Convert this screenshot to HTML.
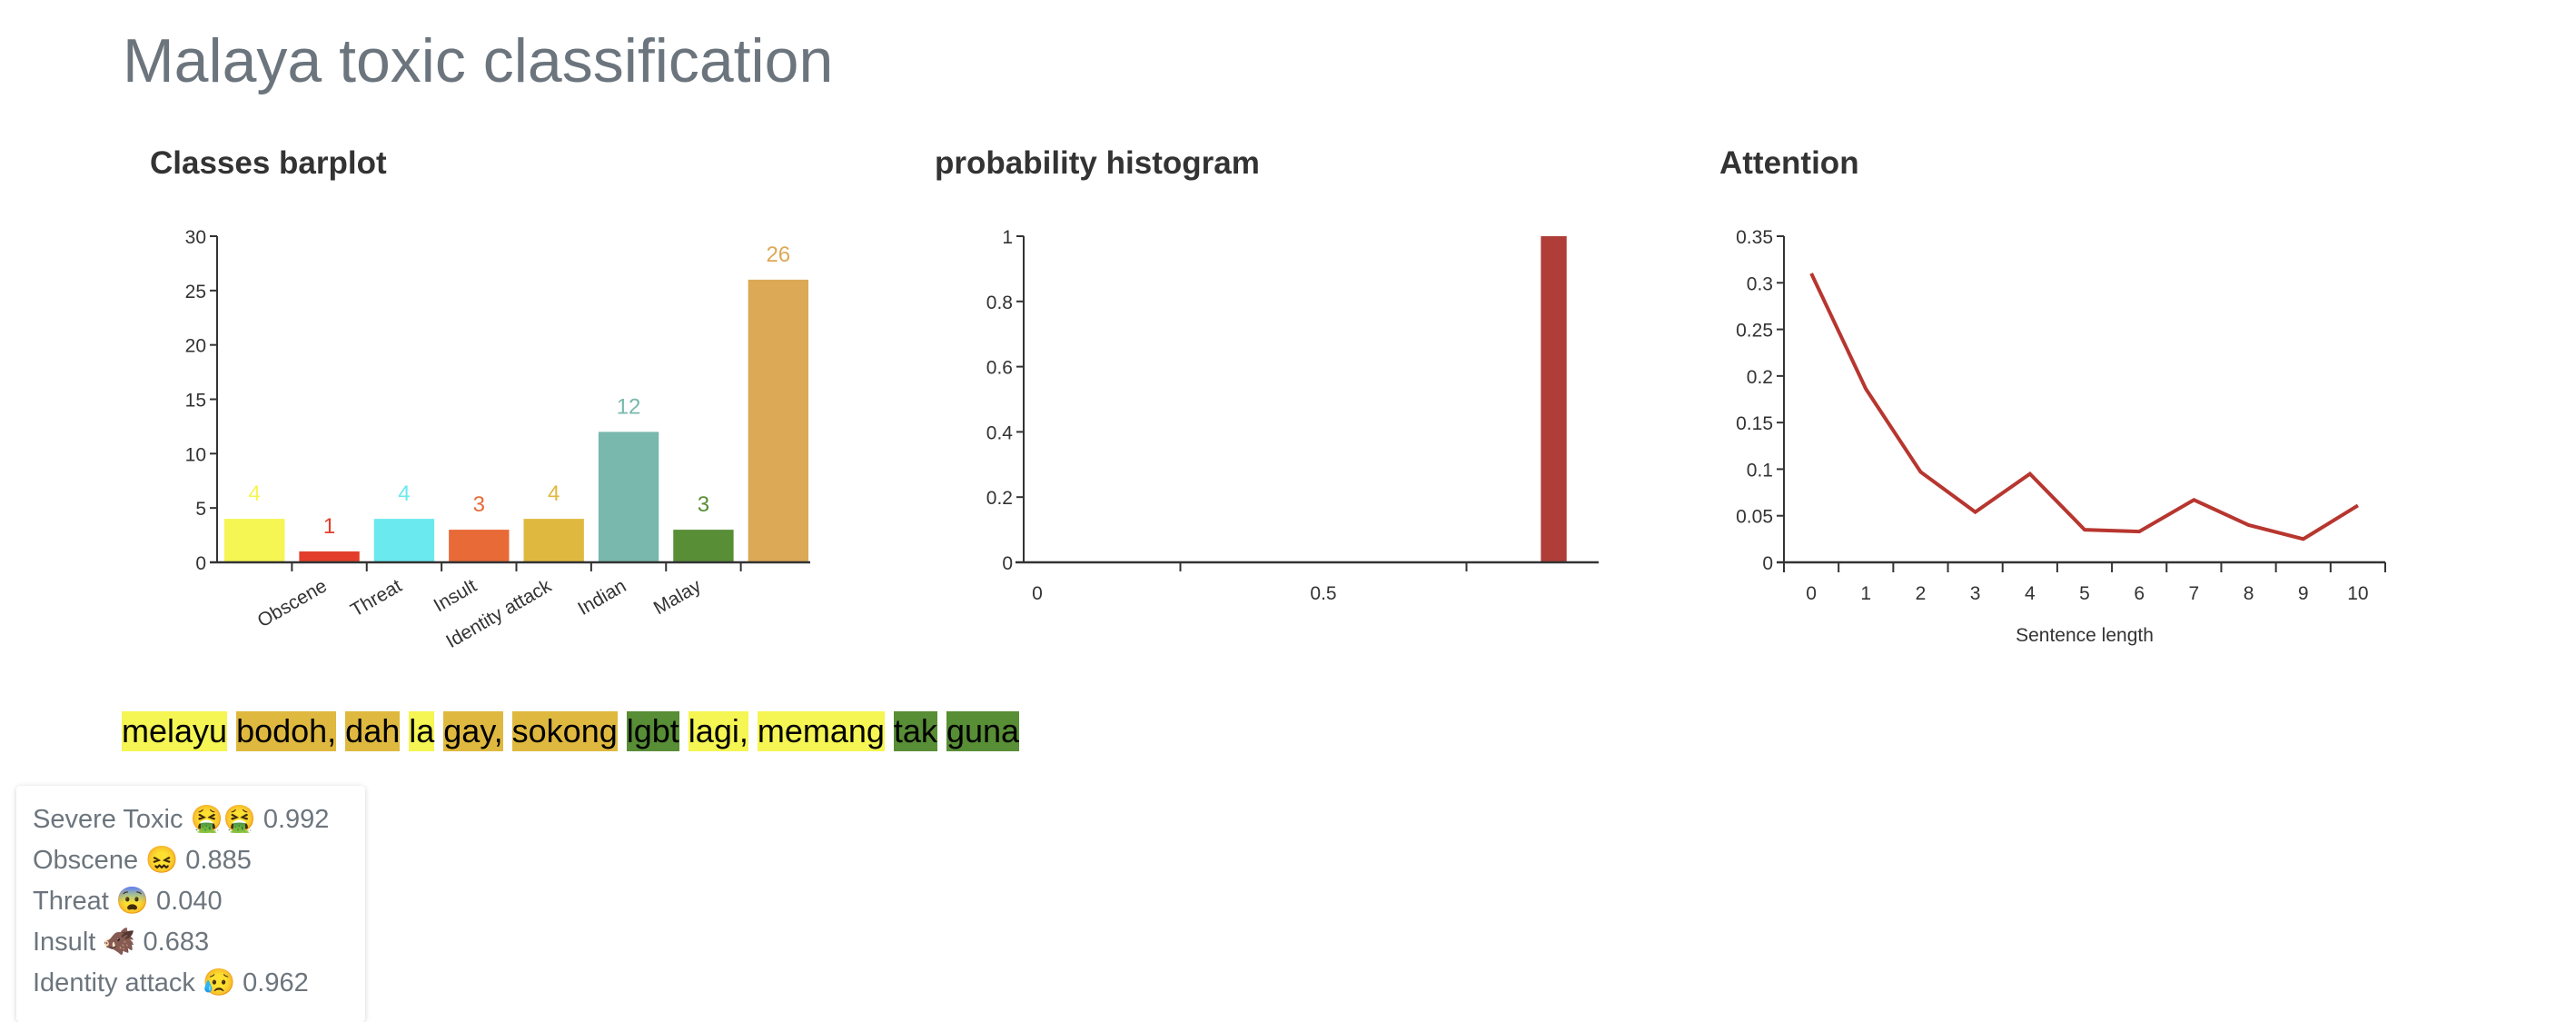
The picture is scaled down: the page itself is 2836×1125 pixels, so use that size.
<!DOCTYPE html>
<html><head><meta charset="utf-8"><style>
html,body{margin:0;padding:0;background:#fff;width:2836px;height:1106px;overflow:hidden;font-family:"Liberation Sans",Arial,sans-serif}
#title{position:absolute;left:135px;top:30px;font-size:68px;color:#6c757d;margin:0;font-weight:normal;line-height:1.1}
.sub{position:absolute;top:160px;font-size:35px;font-weight:bold;color:#333;margin:0}
#words{position:absolute;left:134px;top:783px;font-size:36px;line-height:44px;white-space:nowrap;color:#000}
#words span{display:inline-block;height:44px;margin-right:10px}
#card{position:absolute;left:18px;top:865px;width:384px;height:260px;background:#fff;border-radius:4px;box-shadow:0 1px 6px rgba(0,0,0,0.18)}
#card div{position:absolute;left:18px;font-size:29px;color:#6c757d;white-space:nowrap}
svg{position:absolute;left:0;top:0}
</style></head><body>
<h1 id="title">Malaya toxic classification</h1>
<h3 class="sub" style="left:165px">Classes barplot</h3>
<h3 class="sub" style="left:1029px">probability histogram</h3>
<h3 class="sub" style="left:1893px">Attention</h3>
<svg id="chart" width="2836" height="1106"></svg>
<div id="words">
<span style="background:#f5f553">melayu</span><span style="background:#dfb93f">bodoh,</span><span style="background:#dfb93f">dah</span><span style="background:#f5f553">la</span><span style="background:#dfb93f">gay,</span><span style="background:#dfb93f">sokong</span><span style="background:#588e36">lgbt</span><span style="background:#f5f553">lagi,</span><span style="background:#f5f553">memang</span><span style="background:#588e36">tak</span><span style="background:#588e36">guna</span>
</div>
<div id="card">
<div style="top:20px">Severe Toxic 🤮🤮 0.992</div>
<div style="top:65px">Obscene 😖 0.885</div>
<div style="top:110px">Threat 😨 0.040</div>
<div style="top:155px">Insult 🐗 0.683</div>
<div style="top:200px">Identity attack 😥 0.962</div>
</div>
<script>
const barLabels = ["", "Obscene", "Threat", "Insult", "Identity attack", "Indian", "Malay", ""];
const barValues = [4, 1, 4, 3, 4, 12, 3, 26];
const barColors = ["#f5f553", "#e33e2b", "#6ae9ee", "#e86a37", "#dfb93f", "#79b8ad", "#588e36", "#dca957"];
const barYTicks = [0, 5, 10, 15, 20, 25, 30];
const histBinStart = [0.88];
const histBinEnd = [0.925];
const histCounts = [1];
const histYTicks = [0, 0.2, 0.4, 0.6, 0.8, 1];
const histXLabels = [0, 0.5];
const histXTicks = [0.25, 0.75];
const attnX = [0, 1, 2, 3, 4, 5, 6, 7, 8, 9, 10];
const attnValues = [0.31, 0.186, 0.097, 0.054, 0.095, 0.035, 0.033, 0.067, 0.04, 0.025, 0.061];
const attnYTicks = [0, 0.05, 0.1, 0.15, 0.2, 0.25, 0.3, 0.35];

const NS = "http://www.w3.org/2000/svg";
const svg = document.getElementById("chart");
function mk(tag, attrs, parent) {
  const e = document.createElementNS(NS, tag);
  for (const k in attrs) e.setAttribute(k, attrs[k]);
  (parent || svg).appendChild(e);
  return e;
}
const AX = "#333", FS = 21;
const Y0 = 619, Y1 = 260;

// ---- Bar chart ----
const bx0 = 239, bx1 = 898, bstep = (bx1 - bx0) / barValues.length;
const byS = v => Y0 - (v / 30) * (Y0 - Y1);
const g1 = mk("g", {});


barValues.forEach((v, i) => {
  const x = bx0 + i * bstep + 8, w = bstep - 16;
  const r = mk("rect", {x: x, y: byS(v), width: w, height: Y0 - byS(v), fill: barColors[i]}, g1);
  
  
  const t = mk("text", {x: x + w / 2, y: byS(v) - 20, "text-anchor": "middle", "font-size": 24, fill: barColors[i]}, g1);
  t.textContent = v;
  
  
});
mk("line", {x1: bx0, y1: Y1, x2: bx0, y2: Y0, stroke: AX, "stroke-width": 2}, g1);
mk("line", {x1: bx0 - 8, y1: Y0, x2: bx1 - 6, y2: Y0, stroke: AX, "stroke-width": 2.5}, g1);
barYTicks.forEach(v => {
  mk("line", {x1: bx0 - 8, y1: byS(v), x2: bx0, y2: byS(v), stroke: AX, "stroke-width": 2}, g1);
  const t = mk("text", {x: bx0 - 12, y: byS(v) + 8, "text-anchor": "end", "font-size": FS, fill: AX}, g1);
  t.textContent = v;
  
  
});
for (let i = 1; i < barValues.length; i++) {
  const x = bx0 + i * bstep;
  mk("line", {x1: x, y1: Y0, x2: x, y2: Y0 + 10, stroke: AX, "stroke-width": 2}, g1);
  if (barLabels[i]) {
    const ex = x + 40, ey = Y0 + 30;
    const t = mk("text", {x: ex, y: ey, "text-anchor": "end", "font-size": FS, fill: AX, transform: `rotate(-30 ${ex} ${ey})`}, g1);
    t.textContent = barLabels[i];
    
    
  }
}

// ---- Histogram ----
const hx = v => 1142 + v * 630;
const hyS = v => Y0 - v * (Y0 - Y1);
const g2 = mk("g", {});


histCounts.forEach((c, i) => {
  const r = mk("rect", {x: hx(histBinStart[i]), y: hyS(c), width: hx(histBinEnd[i]) - hx(histBinStart[i]), height: Y0 - hyS(c), fill: "#b03e38"}, g2);
  
  
});
mk("line", {x1: 1127, y1: Y1, x2: 1127, y2: Y0, stroke: AX, "stroke-width": 2}, g2);
mk("line", {x1: 1118, y1: Y0, x2: 1760, y2: Y0, stroke: AX, "stroke-width": 2.5}, g2);
histYTicks.forEach(v => {
  mk("line", {x1: 1119, y1: hyS(v), x2: 1127, y2: hyS(v), stroke: AX, "stroke-width": 2}, g2);
  const t = mk("text", {x: 1115, y: hyS(v) + 8, "text-anchor": "end", "font-size": FS, fill: AX}, g2);
  t.textContent = v;
  
  
});
histXTicks.forEach(v => mk("line", {x1: hx(v), y1: Y0, x2: hx(v), y2: Y0 + 10, stroke: AX, "stroke-width": 2}, g2));
histXLabels.forEach(v => {
  const t = mk("text", {x: hx(v), y: Y0 + 41, "text-anchor": "middle", "font-size": FS, fill: AX}, g2);
  t.textContent = v;
  
  
});

// ---- Attention ----
const ax0 = 1964, ax1 = 2626, astep = (ax1 - ax0) / attnX.length;
const axS = i => ax0 + (i + 0.5) * astep;
const ayS = v => Y0 - (v / 0.35) * (Y0 - Y1);
const g3 = mk("g", {});


mk("line", {x1: ax0, y1: Y1, x2: ax0, y2: Y0, stroke: AX, "stroke-width": 2}, g3);
mk("line", {x1: ax0 - 8, y1: Y0, x2: ax1, y2: Y0, stroke: AX, "stroke-width": 2.5}, g3);
attnYTicks.forEach(v => {
  mk("line", {x1: ax0 - 8, y1: ayS(v), x2: ax0, y2: ayS(v), stroke: AX, "stroke-width": 2}, g3);
  const t = mk("text", {x: ax0 - 12, y: ayS(v) + 8, "text-anchor": "end", "font-size": FS, fill: AX}, g3);
  t.textContent = v;
  
  
});
for (let i = 0; i <= attnX.length; i++) {
  const x = ax0 + i * astep;
  mk("line", {x1: x, y1: Y0, x2: x, y2: Y0 + 11, stroke: AX, "stroke-width": 2}, g3);
}
attnX.forEach((v, i) => {
  const t = mk("text", {x: axS(i), y: Y0 + 41, "text-anchor": "middle", "font-size": FS, fill: AX}, g3);
  t.textContent = v;
  
  
});
const pl = mk("polyline", {points: attnValues.map((v, i) => axS(i) + "," + ayS(v)).join(" "), fill: "none", stroke: "#b7362f", "stroke-width": 4}, g3);


const xl = mk("text", {x: (ax0 + ax1) / 2, y: 706, "text-anchor": "middle", "font-size": FS, fill: AX}, g3);
xl.textContent = "Sentence length";


</script>
</body></html>
